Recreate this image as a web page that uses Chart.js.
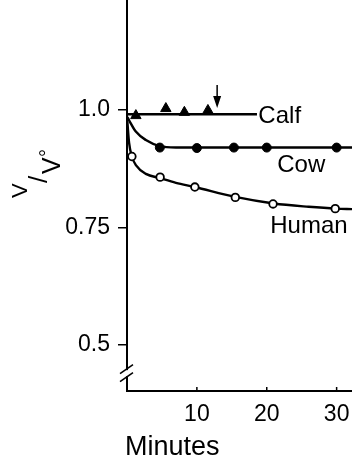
<!DOCTYPE html>
<html>
<head>
<meta charset="utf-8">
<title>V/V° – Minutes</title>
<script src="https://cdn.jsdelivr.net/npm/chart.js@4.4.1/dist/chart.umd.min.js"></script>
<style>
  html, body { margin: 0; padding: 0; background: #fff; }
  #wrap { width: 352px; height: 458px; position: relative; }
</style>
</head>
<body>
<div id="wrap"><canvas id="chart"></canvas></div>
<script>
// ------------- Dados -------------
// measured points (minutes, V/V°)
const calfMin  = [1.27, 5.56, 8.21, 11.58];
const calfVal  = [0.988, 1.003, 0.995, 0.999];
const cowMin   = [4.7, 10.0, 15.3, 20.0, 30.0];
const cowVal   = [0.920, 0.919, 0.920, 0.920, 0.920];
const humanMin = [0.7, 4.74, 9.71, 15.5, 20.9, 29.8];
const humanVal = [0.901, 0.857, 0.836, 0.814, 0.800, 0.790];

// fitted curves
const calfFitMin  = [0, 18.6];
const calfFitVal  = [0.991, 0.991];
const cowFitMin   = [0.05, 0.3, 1.26, 2.7, 4.7, 7, 10, 32.2];
const cowFitVal   = [0.985, 0.978, 0.954, 0.936, 0.923, 0.920, 0.920, 0.920];
const humanFitMin = [0.05, 0.3, 0.7, 1.3, 2.7, 4.7, 7, 9.7, 15.5, 21, 26, 30, 32.2];
const humanFitVal = [0.975, 0.93, 0.901, 0.882, 0.864, 0.855, 0.845, 0.836, 0.815, 0.801, 0.794, 0.790, 0.789];

// axes
const xTicks = [10, 20, 30];
const yTicks = [0.5, 0.75, 1.0];
const yTickText = { 0.5: '0.5', 0.75: '0.75', 1: '1.0' };

// curve names, anchored in data units (left edge, baseline)
const seriesNames = ['Calf', 'Cow', 'Human'];
const nameMin = [18.8, 21.5, 20.5];
const nameVal = [0.972, 0.868, 0.738];

// arrow over the calf line
const arrowMin = 12.9;
const arrowFrom = 1.053;
const arrowTo = 1.004;

// axis break
const breakVal = 0.44;

const FONT = "'Liberation Sans', Arial, Helvetica, sans-serif";

// ------------- Helpers -------------
function pts(xs, ys) {
  return xs.map((x, i) => ({ x, y: ys[i] }));
}
function fitLine(xs, ys) {
  return {
    data: pts(xs, ys), showLine: true, pointRadius: 0,
    borderColor: '#000', borderWidth: 2.4, cubicInterpolationMode: 'monotone', order: 2
  };
}

// ------------- Texto / setas / quebra do eixo -------------
const decor = {
  id: 'decor',
  afterDraw(chart) {
    const { ctx, chartArea, scales } = chart;
    const sx = scales.x, sy = scales.y;
    ctx.save();
    ctx.fillStyle = '#000';
    ctx.strokeStyle = '#000';

    // inward x ticks
    ctx.lineWidth = 1.5;
    xTicks.forEach(v => {
      const px = sx.getPixelForValue(v);
      ctx.beginPath();
      ctx.moveTo(px, chartArea.bottom);
      ctx.lineTo(px, chartArea.bottom - 4);
      ctx.stroke();
    });

    // axis break on y
    const by = sy.getPixelForValue(breakVal);
    const L = chartArea.left;
    ctx.fillStyle = '#fff';
    ctx.fillRect(L - 2, by - 3, 4, 6);
    ctx.fillStyle = '#000';
    ctx.lineWidth = 1.6;
    [-4, 4].forEach(d => {
      ctx.beginPath();
      ctx.moveTo(L - 7, by + d + 4.5);
      ctx.lineTo(L + 6, by + d - 4.5);
      ctx.stroke();
    });

    // arrow
    const ax = sx.getPixelForValue(arrowMin);
    const ay0 = sy.getPixelForValue(arrowFrom);
    const ay1 = sy.getPixelForValue(arrowTo);
    ctx.lineWidth = 1.5;
    ctx.beginPath();
    ctx.moveTo(ax, ay0);
    ctx.lineTo(ax, ay1 - 6);
    ctx.stroke();
    ctx.beginPath();
    ctx.moveTo(ax - 4, ay1 - 12);
    ctx.lineTo(ax + 4, ay1 - 12);
    ctx.lineTo(ax, ay1);
    ctx.closePath();
    ctx.fill();

    // curve names
    ctx.font = `24px ${FONT}`;
    ctx.textAlign = 'left';
    ctx.textBaseline = 'alphabetic';
    seriesNames.forEach((name, i) => {
      ctx.fillText(name, sx.getPixelForValue(nameMin[i]), sy.getPixelForValue(nameVal[i]));
    });

    // x title
    ctx.font = `27px ${FONT}`;
    ctx.fillText('Minutes', L - 2, 455);

    // y title, written as a slanted fraction V/V°
    ctx.rotate(-Math.PI / 2);
    ctx.font = `22px ${FONT}`;
    ctx.fillText('V', -198, 27);
    ctx.font = `26px ${FONT}`;
    ctx.fillText('/', -183, 47);
    ctx.font = `25px ${FONT}`;
    ctx.fillText('V', -174, 60);
    ctx.font = `20px ${FONT}`;
    ctx.fillText('°', -157, 54);

    ctx.restore();
  }
};

// ------------- Gráfico -------------
new Chart(document.getElementById('chart'), {
  type: 'scatter',
  data: {
    datasets: [
      { data: pts(calfMin, calfVal), pointStyle: 'triangle', pointRadius: 6, pointBorderWidth: 1,
        backgroundColor: '#000', borderColor: '#000', order: 1 },
      { data: pts(cowMin, cowVal), pointStyle: 'circle', pointRadius: 4.5, pointBorderWidth: 1,
        backgroundColor: '#000', borderColor: '#000', order: 1 },
      { data: pts(humanMin, humanVal), pointStyle: 'circle', pointRadius: 3.8, pointBorderWidth: 1.8,
        backgroundColor: '#fff', borderColor: '#000', order: 1 },
      fitLine(calfFitMin, calfFitVal),
      fitLine(cowFitMin, cowFitVal),
      fitLine(humanFitMin, humanFitVal)
    ]
  },
  options: {
    animation: false,
    responsive: true,
    maintainAspectRatio: false,
    layout: { padding: 0, autoPadding: false },
    plugins: { legend: { display: false }, tooltip: { enabled: false } },
    scales: {
      x: {
        type: 'linear', min: 0, max: 32.2,
        afterBuildTicks: s => { s.ticks = xTicks.map(v => ({ value: v })); },
        afterFit: s => { s.height = 67; s.paddingLeft = 0; s.paddingRight = 0; },
        grid: { drawOnChartArea: false, drawTicks: false },
        border: { color: '#000', width: 2 },
        ticks: { color: '#000', font: { family: FONT, size: 23 }, padding: 10, maxRotation: 0 }
      },
      y: {
        type: 'linear', min: 0.402, max: 1.234,
        afterBuildTicks: s => { s.ticks = yTicks.map(v => ({ value: v })); },
        afterFit: s => { s.width = 127; s.paddingTop = 0; s.paddingBottom = 0; },
        grid: { drawOnChartArea: false, tickLength: 9, color: '#000', lineWidth: 1.5 },
        border: { color: '#000', width: 2 },
        ticks: { color: '#000', font: { family: FONT, size: 23 }, padding: 8, callback: v => yTickText[v] }
      }
    }
  },
  plugins: [decor]
});
</script>
</body>
</html>
